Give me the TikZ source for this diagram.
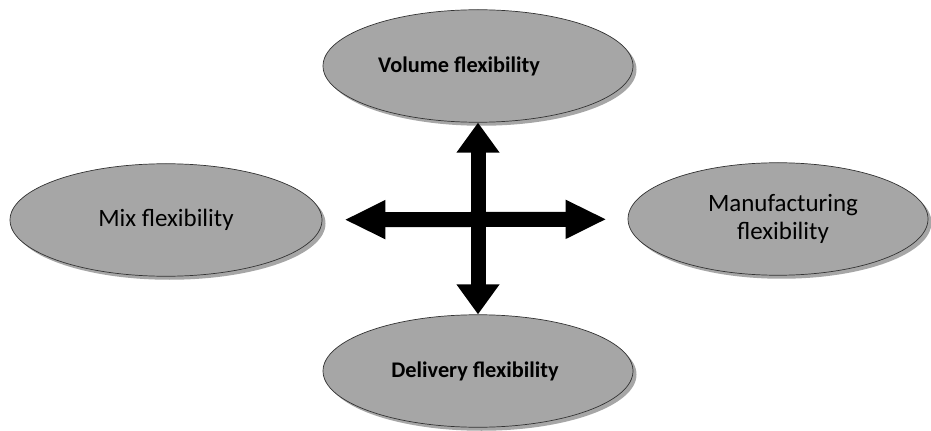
\documentclass[tikz,border=0pt]{standalone}
\usepackage{fontspec}
\setmainfont{Carlito}
\usepackage{tikz}
\usetikzlibrary{shapes.geometric, arrows.meta, shadows}
\definecolor{ellgray}{RGB}{166,166,166}
\tikzstyle{flex} = [ellipse, minimum width=6.2cm, minimum height=2.25cm, inner sep=0pt, text centered, align=center, draw=black!80, thin, fill=ellgray, drop shadow={shadow xshift=0.07cm, shadow yshift=-0.07cm, fill=black, opacity=0.35}]
\tikzstyle{boldlbl} = [font=\fontsize{12.7}{15}\selectfont\bfseries]
\tikzstyle{plainlbl} = [font=\fontsize{14.2}{16}\selectfont]
\tikzstyle{hbar} = [line width=0.3cm, {Triangle[width=0.72cm, length=0.82cm]}-{Triangle[width=0.72cm, length=0.82cm]}]
\tikzstyle{vbar} = [line width=0.3cm, {Triangle[width=0.82cm, length=0.6cm]}-{Triangle[width=0.82cm, length=0.6cm]}]

\begin{document}
\begin{tikzpicture}[node distance=3cm]
\useasboundingbox (0,0) rectangle (18.62,8.6);
\coordinate (hub) at (9.52,4.2);

\node (vol) [flex, boldlbl, above of=hub, yshift=0.08cm, xshift=0.04cm] {\hspace*{-0.76cm}\raisebox{-0.08cm}{Volume flexibility}};
\node (del) [flex, boldlbl, below of=hub, yshift=-0.02cm, xshift=0.04cm] {\hspace*{-0.12cm}Delivery flexibility};
\node (mix) [flex, plainlbl, left of=hub, xshift=-3.2cm, minimum width=6.24cm] {Mix flexibility};
\node (manu) [flex, plainlbl, right of=hub, xshift=3.04cm, yshift=0.02cm, minimum width=6.0cm] {\hspace*{0.2cm}Manufacturing\\\hspace*{0.2cm}flexibility};

\draw [vbar] (vol.south) -- (del.north);
\draw [hbar, shorten <=0.44cm, shorten >=0.42cm] (mix) -- (manu);

\end{tikzpicture}
\end{document}
